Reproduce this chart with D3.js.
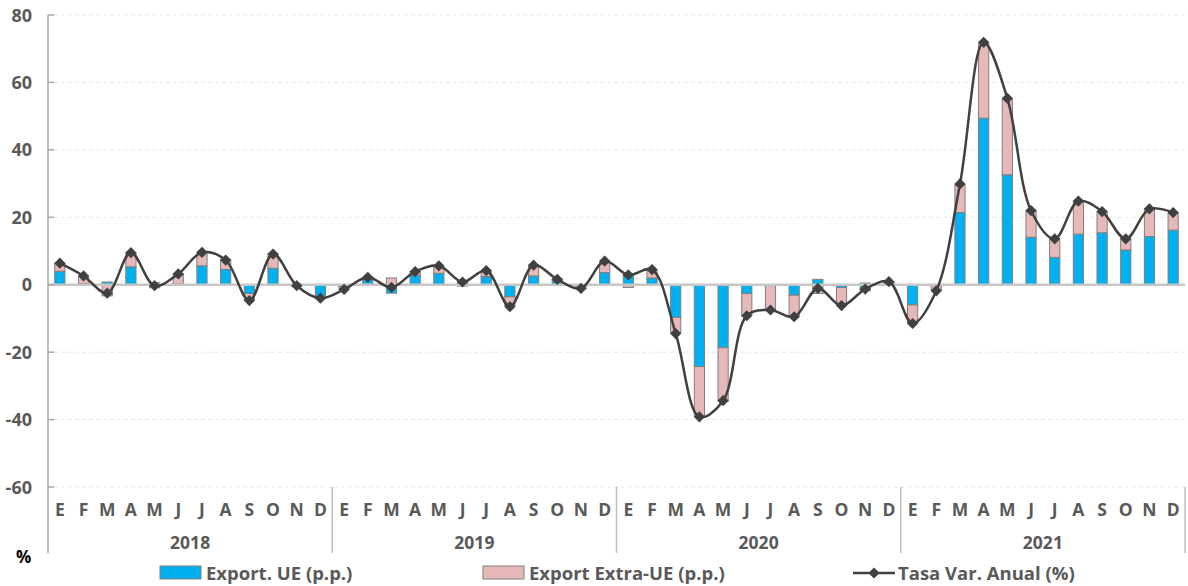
<!DOCTYPE html>
<html>
<head>
<script src="https://d3js.org/d3.v7.min.js"></script>
<style>
  html, body { margin: 0; padding: 0; background: #fff; }
  svg { display: block; }
  text { font-family: "Open Sans", sans-serif; font-weight: bold; }
</style>
</head>
<body>
<svg id="chart" width="1188" height="586"></svg>
<script>
// data
const years = ["2018", "2019", "2020", "2021"];
const months = ["E", "F", "M", "A", "M", "J", "J", "A", "S", "O", "N", "D"];
const exportUE = [
  4.0, 0.3, 0.8, 5.3, 0.6, 0.2, 5.6, 4.5, -2.6, 4.9, 0.2, -3.4,
  -0.5, 1.5, -2.5, 2.8, 3.4, 1.1, 2.4, -3.6, 2.6, 1.4, -0.4, 3.6,
  2.8, 2.0, -9.7, -24.3, -18.7, -2.6, -0.2, -3.1, 1.6, -0.8, -1.8, 0.5,
  -6.0, -0.3, 21.4, 49.4, 32.6, 14.1, 8.1, 15.0, 15.4, 10.3, 14.3, 16.2
];
const exportExtraUE = [
  2.4, 2.3, -3.3, 4.2, -0.9, 3.0, 4.0, 3.0, -1.9, 4.2, -0.5, -0.6,
  -0.8, 0.7, 2.0, 1.1, 1.9, -0.4, 1.6, -2.6, 3.2, 0.3, -0.6, 3.2,
  -0.8, 2.3, -4.5, -14.8, -15.8, -6.5, -7.2, -6.2, -2.6, -5.3, 0.5, 0.4,
  -5.3, -1.4, 8.2, 22.3, 22.4, 7.9, 5.5, 9.8, 6.3, 3.3, 8.2, 5.0
];
const tasaVar = [
  6.4, 2.6, -2.5, 9.5, -0.3, 3.2, 9.6, 7.3, -4.7, 9.1, -0.3, -4.0,
  -1.4, 2.2, -0.8, 3.9, 5.6, 0.8, 4.2, -6.5, 5.8, 1.6, -1.1, 7.0,
  2.9, 4.5, -14.5, -39.2, -34.4, -9.2, -7.5, -9.5, -1.1, -6.2, -1.3, 0.9,
  -11.5, -1.8, 29.9, 71.9, 55.3, 22.0, 13.6, 24.8, 21.7, 13.6, 22.5, 21.4
];
const yTicks = [80, 60, 40, 20, 0, -20, -40, -60];

const svg = d3.select("#chart");
const plotLeft = 48, plotRight = 1185, plotTop = 15, plotBottom = 487;

const idx = d3.range(exportUE.length);
const x = d3.scaleBand().domain(idx).range([plotLeft, plotRight]).paddingInner(0.57).paddingOuter(0.285);
const y = d3.scaleLinear().domain([-60, 80]).range([plotBottom, plotTop]);

// gridlines
svg.append("g")
  .selectAll("line")
  .data(yTicks.filter(d => d !== 0))
  .join("line")
  .attr("x1", plotLeft + 6).attr("x2", plotRight)
  .attr("y1", d => y(d)).attr("y2", d => y(d))
  .attr("stroke", "#e6e6e6")
  .attr("stroke-dasharray", "4,3");

// y tick labels
svg.append("g")
  .selectAll("text")
  .data(yTicks)
  .join("text")
  .attr("x", 32)
  .attr("y", d => y(d) + 6.5)
  .attr("text-anchor", "end")
  .attr("font-size", 18)
  .attr("fill", "#595959")
  .text(d => d);

// stacked bars (diverging)
const rows = idx.map(i => ({ ue: exportUE[i], extra: exportExtraUE[i] }));
const stack = d3.stack().keys(["ue", "extra"]).offset(d3.stackOffsetDiverging);
const series = stack(rows);
const colors = { ue: "#00b0f0", extra: "#e6b9b8" };

svg.append("g")
  .selectAll("g")
  .data(series)
  .join("g")
  .attr("fill", d => colors[d.key])
  .selectAll("rect")
  .data(d => d)
  .join("rect")
  .attr("x", (d, i) => x(i))
  .attr("width", x.bandwidth())
  .attr("y", d => y(Math.max(d[0], d[1])))
  .attr("height", d => Math.abs(y(d[0]) - y(d[1])))
  .attr("stroke", "#7f7f7f")
  .attr("stroke-width", 1);

// zero line
svg.append("line")
  .attr("x1", plotLeft).attr("x2", plotRight)
  .attr("y1", y(0)).attr("y2", y(0))
  .attr("stroke", "#c6c6c6")
  .attr("stroke-width", 2.5);

// left axis + inner ticks
svg.append("line")
  .attr("x1", plotLeft).attr("x2", plotLeft)
  .attr("y1", plotTop).attr("y2", 553)
  .attr("stroke", "#a6a6a6").attr("stroke-width", 1.5);
svg.append("g")
  .selectAll("line")
  .data(yTicks)
  .join("line")
  .attr("x1", plotLeft).attr("x2", plotLeft + 6)
  .attr("y1", d => y(d)).attr("y2", d => y(d))
  .attr("stroke", "#a6a6a6").attr("stroke-width", 1.5);

// line series
const cx = i => x(i) + x.bandwidth() / 2;
const line = d3.line()
  .x((d, i) => cx(i))
  .y(d => y(d))
  .curve(d3.curveCatmullRom.alpha(0.5));

svg.append("path")
  .datum(tasaVar)
  .attr("fill", "none")
  .attr("stroke", "#404040")
  .attr("stroke-width", 2.5)
  .attr("d", line);

const diamond = d3.symbol().type(d3.symbolDiamond2).size(80);
svg.append("g")
  .selectAll("path")
  .data(tasaVar)
  .join("path")
  .attr("transform", (d, i) => `translate(${cx(i)},${y(d)})`)
  .attr("d", diamond)
  .attr("fill", "#404040");

// month labels
svg.append("g")
  .selectAll("text")
  .data(idx)
  .join("text")
  .attr("x", i => cx(i))
  .attr("y", 516)
  .attr("text-anchor", "middle")
  .attr("font-size", 17.5)
  .attr("fill", "#595959")
  .text(i => months[i % 12]);

// year labels and dividers
const step = x.step();
svg.append("g")
  .selectAll("text")
  .data(years)
  .join("text")
  .attr("x", (d, j) => plotLeft + step * 12 * (j + 0.5))
  .attr("y", 549)
  .attr("text-anchor", "middle")
  .attr("font-size", 17.5)
  .attr("fill", "#595959")
  .text(d => d);

svg.append("g")
  .selectAll("line")
  .data(d3.range(1, years.length + 1))
  .join("line")
  .attr("x1", j => plotLeft + step * 12 * j)
  .attr("x2", j => plotLeft + step * 12 * j)
  .attr("y1", plotBottom).attr("y2", 553)
  .attr("stroke", "#bfbfbf").attr("stroke-width", 1.5);

// % label
svg.append("text")
  .attr("x", 16).attr("y", 563)
  .attr("font-size", 17)
  .attr("fill", "#000")
  .text("%");

// legend
const legend = svg.append("g").attr("font-size", 18.5).attr("fill", "#595959");
legend.append("rect").attr("x", 160).attr("y", 566).attr("width", 41).attr("height", 13)
  .attr("fill", colors.ue).attr("stroke", "#7f7f7f");
legend.append("text").attr("x", 206).attr("y", 580).text("Export. UE (p.p.)");
legend.append("rect").attr("x", 483).attr("y", 566).attr("width", 41).attr("height", 13)
  .attr("fill", colors.extra).attr("stroke", "#7f7f7f");
legend.append("text").attr("x", 529).attr("y", 580).text("Export Extra-UE (p.p.)");
legend.append("line").attr("x1", 853).attr("x2", 895).attr("y1", 573).attr("y2", 573)
  .attr("stroke", "#404040").attr("stroke-width", 2.5);
legend.append("path").attr("transform", "translate(874,573)").attr("d", diamond).attr("fill", "#404040");
legend.append("text").attr("x", 898).attr("y", 580).text("Tasa Var. Anual (%)");
</script>
</body>
</html>
